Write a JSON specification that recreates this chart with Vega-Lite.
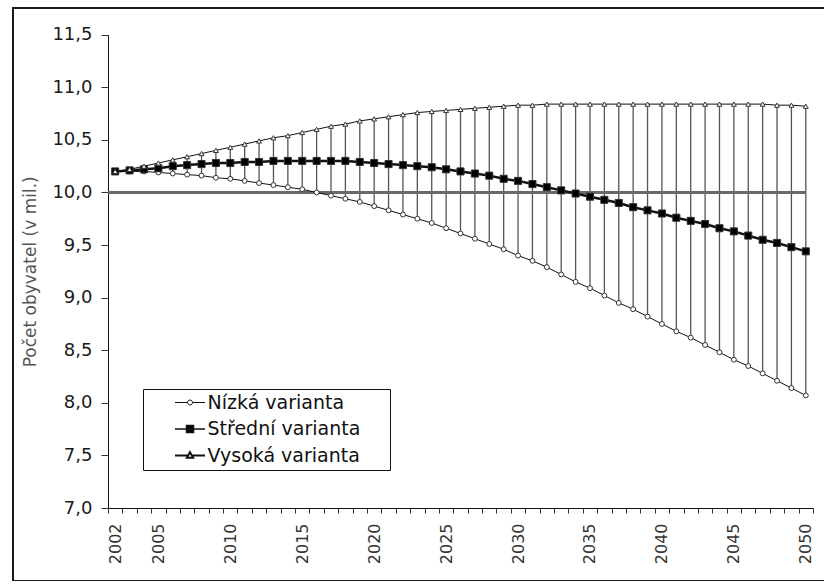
{
  "$schema": "https://vega.github.io/schema/vega-lite/v6.json",
  "autosize": {"type": "none"},
  "padding": {"left": 13, "top": 8, "right": 0, "bottom": 0},
  "width": 811,
  "height": 573,
  "background": "white",
  "config": {
    "view": {"stroke": "#1a1a1a", "strokeWidth": 2, "strokeDash": [811, 573, 1500]},
    "font": "DejaVu Sans",
    "axis": {"grid": false, "domainColor": "#111", "tickColor": "#333", "labelColor": "#1a1a1a", "labelFont": "DejaVu Sans"},
    "legend": {
      "title": null,
      "orient": "none",
      "legendX": 130,
      "legendY": 381,
      "direction": "vertical",
      "fillColor": "white",
      "strokeColor": "#111",
      "padding": 4,
      "rowPadding": 6.5,
      "symbolSize": 225,
      "symbolOffset": 33.5,
      "symbolOpacity": 1,
      "symbolStrokeColor": "#111",
      "labelOffset": 8,
      "labelFont": "DejaVu Sans",
      "labelFontSize": 19,
      "labelColor": "#111"
    }
  },
  "data": {
    "values": [
      {"year": 2002, "low": 10.20, "mid": 10.20, "high": 10.20},
      {"year": 2003, "low": 10.20, "mid": 10.21, "high": 10.22},
      {"year": 2004, "low": 10.20, "mid": 10.22, "high": 10.25},
      {"year": 2005, "low": 10.19, "mid": 10.23, "high": 10.28},
      {"year": 2006, "low": 10.18, "mid": 10.25, "high": 10.31},
      {"year": 2007, "low": 10.17, "mid": 10.26, "high": 10.34},
      {"year": 2008, "low": 10.16, "mid": 10.27, "high": 10.37},
      {"year": 2009, "low": 10.14, "mid": 10.28, "high": 10.40},
      {"year": 2010, "low": 10.13, "mid": 10.28, "high": 10.43},
      {"year": 2011, "low": 10.11, "mid": 10.29, "high": 10.46},
      {"year": 2012, "low": 10.09, "mid": 10.29, "high": 10.49},
      {"year": 2013, "low": 10.07, "mid": 10.30, "high": 10.52},
      {"year": 2014, "low": 10.05, "mid": 10.30, "high": 10.54},
      {"year": 2015, "low": 10.03, "mid": 10.30, "high": 10.57},
      {"year": 2016, "low": 10.00, "mid": 10.30, "high": 10.60},
      {"year": 2017, "low": 9.97, "mid": 10.30, "high": 10.63},
      {"year": 2018, "low": 9.94, "mid": 10.30, "high": 10.65},
      {"year": 2019, "low": 9.91, "mid": 10.29, "high": 10.68},
      {"year": 2020, "low": 9.87, "mid": 10.28, "high": 10.70},
      {"year": 2021, "low": 9.83, "mid": 10.27, "high": 10.72},
      {"year": 2022, "low": 9.79, "mid": 10.26, "high": 10.74},
      {"year": 2023, "low": 9.75, "mid": 10.25, "high": 10.76},
      {"year": 2024, "low": 9.71, "mid": 10.24, "high": 10.77},
      {"year": 2025, "low": 9.66, "mid": 10.22, "high": 10.78},
      {"year": 2026, "low": 9.61, "mid": 10.20, "high": 10.79},
      {"year": 2027, "low": 9.56, "mid": 10.18, "high": 10.80},
      {"year": 2028, "low": 9.51, "mid": 10.16, "high": 10.81},
      {"year": 2029, "low": 9.46, "mid": 10.13, "high": 10.82},
      {"year": 2030, "low": 9.40, "mid": 10.11, "high": 10.83},
      {"year": 2031, "low": 9.35, "mid": 10.08, "high": 10.83},
      {"year": 2032, "low": 9.29, "mid": 10.05, "high": 10.84},
      {"year": 2033, "low": 9.22, "mid": 10.02, "high": 10.84},
      {"year": 2034, "low": 9.15, "mid": 9.99, "high": 10.84},
      {"year": 2035, "low": 9.09, "mid": 9.96, "high": 10.84},
      {"year": 2036, "low": 9.02, "mid": 9.93, "high": 10.84},
      {"year": 2037, "low": 8.95, "mid": 9.90, "high": 10.84},
      {"year": 2038, "low": 8.89, "mid": 9.86, "high": 10.84},
      {"year": 2039, "low": 8.82, "mid": 9.83, "high": 10.84},
      {"year": 2040, "low": 8.75, "mid": 9.80, "high": 10.84},
      {"year": 2041, "low": 8.68, "mid": 9.76, "high": 10.84},
      {"year": 2042, "low": 8.62, "mid": 9.73, "high": 10.84},
      {"year": 2043, "low": 8.55, "mid": 9.70, "high": 10.84},
      {"year": 2044, "low": 8.48, "mid": 9.66, "high": 10.84},
      {"year": 2045, "low": 8.41, "mid": 9.63, "high": 10.84},
      {"year": 2046, "low": 8.35, "mid": 9.59, "high": 10.84},
      {"year": 2047, "low": 8.28, "mid": 9.55, "high": 10.84},
      {"year": 2048, "low": 8.21, "mid": 9.52, "high": 10.83},
      {"year": 2049, "low": 8.14, "mid": 9.48, "high": 10.83},
      {"year": 2050, "low": 8.07, "mid": 9.44, "high": 10.82}
    ]
  },
  "encoding": {
    "x": {
      "field": "year",
      "type": "ordinal",
      "bandPosition": 0.5,
      "scale": {"type": "band", "range": [95, 800], "paddingInner": 0, "paddingOuter": 0},
      "axis": {
        "title": null,
        "offset": -73,
        "tickBand": "extent",
        "tickSize": 5,
        "labelAngle": 270,
        "labelPadding": 10,
        "labelFontSize": 16,
        "labelColor": "#333",
        "labelExpr": "(datum.value == 2002 || datum.value % 5 == 0) ? datum.label : ''"
      }
    }
  },
  "layer": [
    {
      "mark": {"type": "rule", "color": "#555", "strokeWidth": 1.3},
      "encoding": {
        "y": {
          "field": "low",
          "type": "quantitative",
          "scale": {"domain": [7, 11.5], "range": [500, 26.7], "nice": false, "zero": false},
          "axis": {
            "title": "Počet obyvatel (v mil.)",
            "titleFont": "DejaVu Sans",
            "titleFontSize": 17,
            "titleFontWeight": "normal",
            "titleColor": "#555",
            "titlePadding": 12,
            "offset": -95,
            "values": [7, 7.5, 8, 8.5, 9, 9.5, 10, 10.5, 11, 11.5],
            "tickSize": 7,
            "labelPadding": 9,
            "labelFontSize": 18,
            "labelExpr": "replace(format(datum.value, '.1f'), '.', ',')"
          }
        },
        "y2": {"field": "high"}
      }
    },
    {
      "mark": {"type": "rule", "color": "#6a6a6a", "strokeWidth": 1.5},
      "encoding": {
        "x": {"datum": 2002, "type": "ordinal", "bandPosition": 0},
        "x2": {"datum": 2050},
        "y": {"datum": 10, "type": "quantitative"}
      }
    },
    {
      "transform": [{"fold": ["low", "mid", "high"], "as": ["series", "pop"]}],
      "mark": {"type": "line", "color": "#111"},
      "encoding": {
        "y": {"field": "pop", "type": "quantitative"},
        "detail": {"field": "series"},
        "strokeWidth": {"condition": {"test": "datum.series == 'mid'", "value": 2.5}, "value": 1}
      }
    },
    {
      "transform": [{"fold": ["low", "mid", "high"], "as": ["series", "pop"]}],
      "mark": {"type": "point", "stroke": "#333", "strokeWidth": 1, "opacity": 1},
      "encoding": {
        "y": {"field": "pop", "type": "quantitative"},
        "shape": {
          "condition": [
            {"test": "datum.series == 'mid'", "value": "square"},
            {"test": "datum.series == 'high'", "value": "triangle-up"}
          ],
          "value": "circle"
        },
        "size": {"condition": {"test": "datum.series == 'mid'", "value": 50}, "value": 24},
        "fill": {"condition": {"test": "datum.series == 'mid'", "value": "black"}, "value": "white"}
      }
    },
    {
      "transform": [{"fold": ["low", "mid", "high"], "as": ["series", "pop"]}],
      "mark": {"type": "point", "opacity": 0, "strokeWidth": 1},
      "encoding": {
        "y": {"field": "pop", "type": "quantitative"},
        "fill": {
          "field": "series",
          "type": "nominal",
          "scale": {"domain": ["low", "mid", "high"], "range": ["white", "black", "white"]},
          "legend": {"labelExpr": "datum.label == 'low' ? 'Nízká varianta' : datum.label == 'mid' ? 'Střední varianta' : 'Vysoká varianta'"}
        },
        "stroke": {
          "field": "series",
          "type": "nominal",
          "scale": {"domain": ["low", "mid", "high"], "range": ["#111", "#111", "#111"]},
          "legend": {"labelExpr": "datum.label == 'low' ? 'Nízká varianta' : datum.label == 'mid' ? 'Střední varianta' : 'Vysoká varianta'"}
        },
        "strokeWidth": {
          "field": "series",
          "type": "nominal",
          "scale": {"domain": ["low", "mid", "high"], "range": [1, 2, 1]},
          "legend": {"labelExpr": "datum.label == 'low' ? 'Nízká varianta' : datum.label == 'mid' ? 'Střední varianta' : 'Vysoká varianta'"}
        },
        "shape": {
          "field": "series",
          "type": "nominal",
          "scale": {
            "domain": ["low", "mid", "high"],
            "range": [
              "M-2,0H-0.33M0.33,0H2M-0.33,0A0.33,0.33,0,1,1,0.33,0A0.33,0.33,0,1,1,-0.33,0ZM25.6,0",
              "M-2,0H2M-0.47,-0.47H0.47V0.47H-0.47ZM25.6,0",
              "M-2,0H-0.25M0.25,0H2M0,-0.45L0.42,0.3L-0.42,0.3ZM25.6,0"
            ]
          },
          "legend": {"labelExpr": "datum.label == 'low' ? 'Nízká varianta' : datum.label == 'mid' ? 'Střední varianta' : 'Vysoká varianta'"}
        }
      }
    }
  ]
}
